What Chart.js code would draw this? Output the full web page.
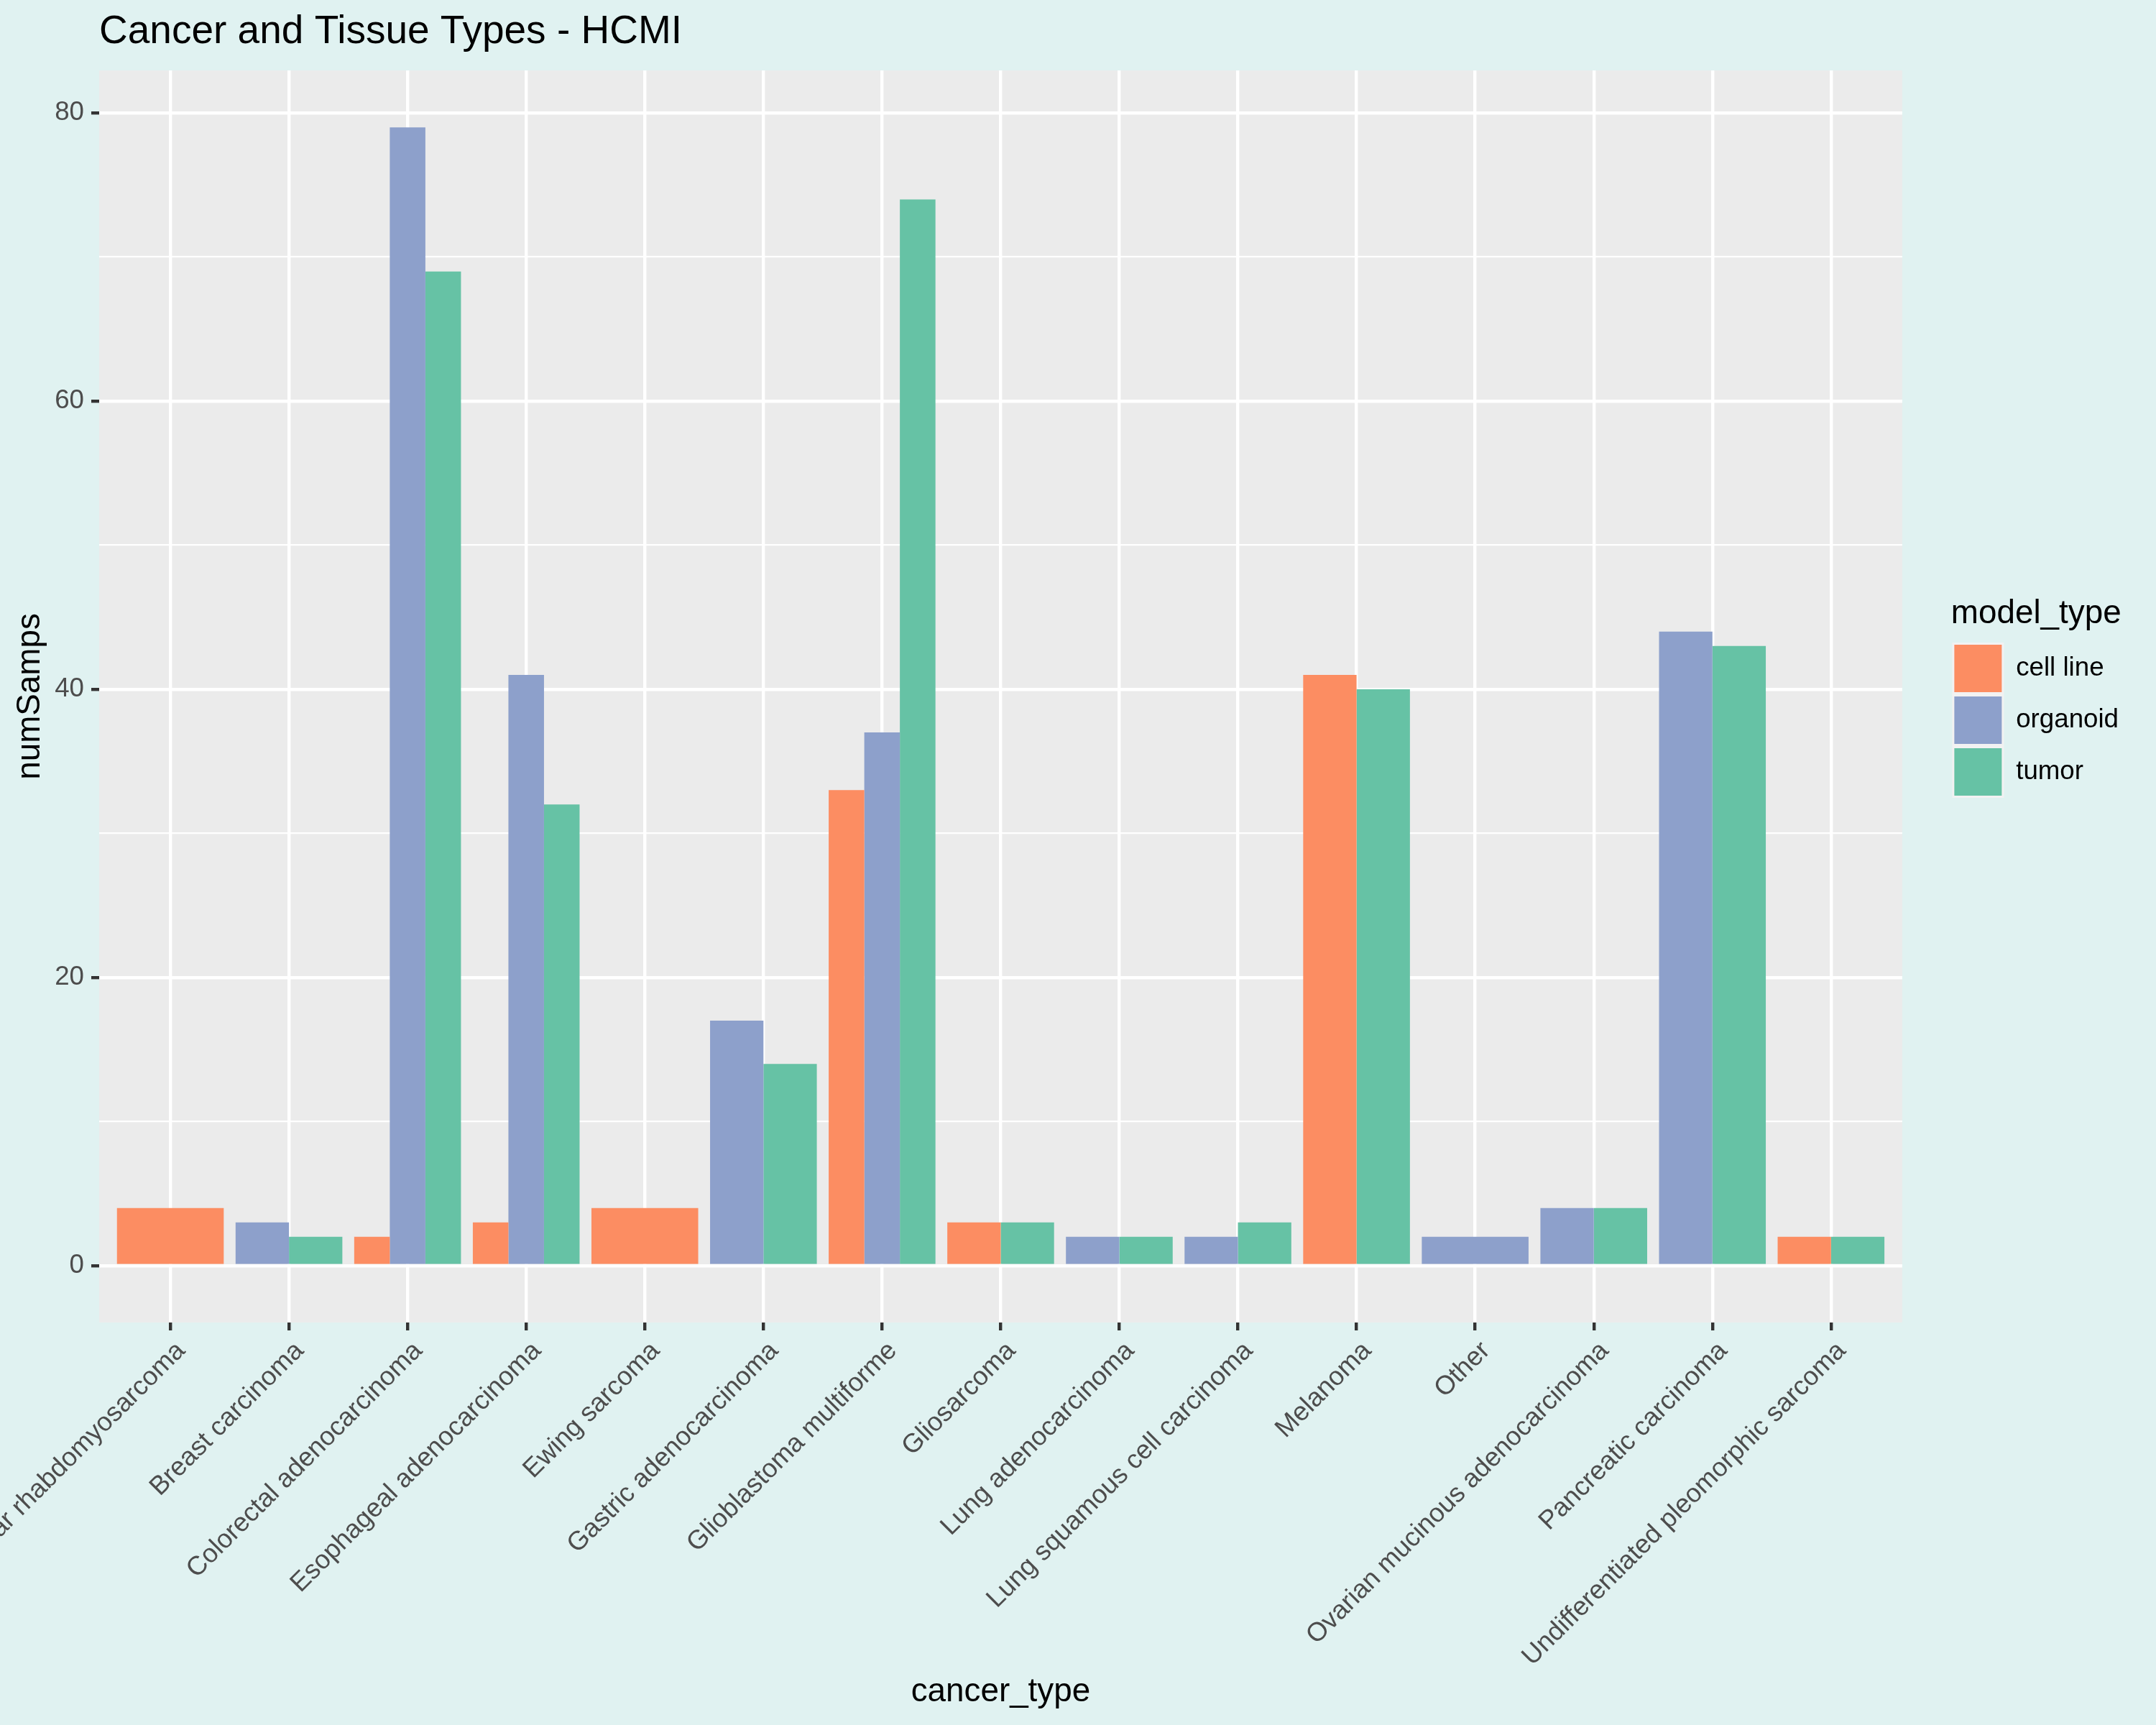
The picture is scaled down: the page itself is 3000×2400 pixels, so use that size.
<!DOCTYPE html>
<html>
<head>
<meta charset="utf-8">
<script src="https://cdn.jsdelivr.net/npm/chart.js@4.4.1/dist/chart.umd.min.js"></script>
<style>
html,body{margin:0;padding:0;background:#E0F2F1;}
canvas{display:block;}
</style>
</head>
<body>
<canvas id="c" width="3000" height="2400"></canvas>
<script>
const categories = [
  'Alveolar rhabdomyosarcoma', 'Breast carcinoma', 'Colorectal adenocarcinoma',
  'Esophageal adenocarcinoma', 'Ewing sarcoma', 'Gastric adenocarcinoma',
  'Glioblastoma multiforme', 'Gliosarcoma', 'Lung adenocarcinoma',
  'Lung squamous cell carcinoma', 'Melanoma', 'Other',
  'Ovarian mucinous adenocarcinoma', 'Pancreatic carcinoma',
  'Undifferentiated pleomorphic sarcoma'
];
const seriesNames = ['cell line', 'organoid', 'tumor'];
const cellLine = [4, null, 2, 3, 4, null, 33, 3, null, null, 41, null, null, null, 2];
const organoid = [null, 3, 79, 41, null, 17, 37, null, 2, 2, null, 2, 4, 44, null];
const tumor    = [null, 2, 69, 32, null, 14, 74, 3, 2, 3, 40, null, 4, 43, 2];
const yTickLabels = [0, 20, 40, 60, 80];

const seriesColors = ['#FC8D62', '#8DA0CB', '#66C2A5'];
const seriesValues = [cellLine, organoid, tumor];

const toPoints = arr => arr.map((v, i) => ({ x: i + 1, y: v }));

const bgPlugin = {
  id: 'bg',
  beforeDraw(chart) {
    const { ctx, chartArea: a } = chart;
    ctx.save();
    ctx.fillStyle = '#E0F2F1';
    ctx.fillRect(0, 0, chart.width, chart.height);
    ctx.fillStyle = '#EBEBEB';
    ctx.fillRect(a.left, a.top, a.right - a.left, a.bottom - a.top);
    ctx.restore();
  }
};

Chart.defaults.font.family = '"Liberation Sans", Arial, Helvetica, sans-serif';

new Chart(document.getElementById('c'), {
  type: 'bar',
  data: {
    datasets: seriesNames.map((name, k) => ({
      label: name,
      data: toPoints(seriesValues[k]),
      backgroundColor: seriesColors[k],
      borderWidth: 0,
      skipNull: true,
      categoryPercentage: 0.9,
      barPercentage: 1.0
    }))
  },
  options: {
    responsive: false,
    animation: false,
    devicePixelRatio: 1,
    layout: { padding: { left: 0, right: 42, top: 0, bottom: 0 } },
    plugins: {
      tooltip: { enabled: false },
      title: {
        display: true,
        text: 'Cancer and Tissue Types - HCMI',
        align: 'start',
        fullSize: false,
        color: '#000000',
        font: { size: 55, weight: 'normal' },
        padding: { top: 12, bottom: 20 }
      },
      legend: {
        position: 'right',
        align: 'center',
        fullSize: false,
        title: {
          display: true,
          text: 'model_type',
          position: 'start',
          color: '#000000',
          font: { size: 45.8, weight: 'normal' },
          padding: { top: 5, bottom: 6 }
        },
        labels: {
          boxWidth: 69,
          boxHeight: 69,
          padding: 3,
          color: '#000000',
          font: { size: 36.7 },
          generateLabels: chart => Chart.defaults.plugins.legend.labels.generateLabels(chart)
            .map(l => ({ ...l, strokeStyle: '#F2F2F2', lineWidth: 3 }))
        }
      }
    },
    scales: {
      x: {
        type: 'linear',
        min: 0.4,
        max: 15.6,
        offset: false,
        border: { display: false },
        grid: {
          offset: false,
          color: '#FFFFFF',
          lineWidth: 4.4,
          tickColor: '#333333',
          tickWidth: 4.4,
          tickLength: 11
        },
        ticks: {
          stepSize: 1,
          includeBounds: false,
          autoSkip: false,
          maxRotation: 45,
          minRotation: 45,
          padding: 7,
          labelOffset: 15,
          color: '#4D4D4D',
          font: { size: 36.7 },
          callback: v => categories[v - 1] ?? ''
        },
        title: {
          display: true,
          text: 'cancer_type',
          color: '#000000',
          font: { size: 45.8 },
          padding: { top: 0, bottom: 18 }
        },
        afterFit: s => { s.height = 560; s.paddingLeft = 0; s.paddingRight = 0; }
      },
      y: {
        type: 'linear',
        min: -3.95,
        max: 82.95,
        border: { display: false },
        grid: {
          color: '#FFFFFF',
          lineWidth: c => yTickLabels.includes(c.tick.value) ? 4.4 : 2.2,
          tickColor: c => yTickLabels.includes(c.tick.value) ? '#333333' : 'rgba(0,0,0,0)',
          tickWidth: 4.4,
          tickLength: 11
        },
        ticks: {
          stepSize: 10,
          includeBounds: false,
          autoSkip: false,
          padding: 10,
          color: '#4D4D4D',
          font: { size: 36.7 },
          callback: v => yTickLabels.includes(v) ? String(v) : ''
        },
        title: {
          display: true,
          text: 'numSamps',
          color: '#000000',
          font: { size: 45.8 },
          padding: { top: 15, bottom: 0 }
        },
        afterFit: s => { s.width = 138; s.paddingTop = 0; s.paddingBottom = 0; }
      },
      gap: {
        type: 'linear',
        position: 'right',
        display: false,
        afterFit: s => { s.width = 68; }
      }
    }
  },
  plugins: [bgPlugin]
});
</script>
</body>
</html>
